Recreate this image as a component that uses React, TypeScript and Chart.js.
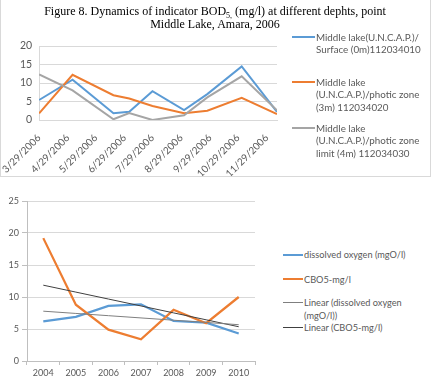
import React, { useEffect, useRef } from 'react';
import { Chart, registerables } from 'chart.js';

Chart.register(...registerables);

// ---------- Top chart data ----------
const sampleDates = ['2006-03-29', '2006-05-04', '2006-06-17', '2006-07-04', '2006-07-29', '2006-09-01', '2006-09-26', '2006-11-02', '2006-12-10'];
const surface0m = [5.4, 10.9, 1.8, 2.2, 7.8, 2.7, 7.0, 14.5, 2.2];
const photic3m = [1.8, 12.2, 6.7, 5.8, 3.8, 1.8, 2.5, 6.0, 1.6];
const photicLimit4m = [12.3, 8.0, 0.2, 1.9, 0.0, 1.3, 6.1, 11.8, 2.6];
const dateTickLabels = ['3/29/2006', '4/29/2006', '5/29/2006', '6/29/2006', '7/29/2006', '8/29/2006', '9/29/2006', '10/29/2006', '11/29/2006'];
const topSeriesLabels = [
  ['Middle lake(U.N.C.A.P.)/', 'Surface (0m)112034010'],
  ['Middle lake', '(U.N.C.A.P.)/photic zone', '(3m) 112034020'],
  ['Middle lake', '(U.N.C.A.P.)/photic zone', 'limit (4m) 112034030'],
];

// ---------- Bottom chart data ----------
const years = ['2004', '2005', '2006', '2007', '2008', '2009', '2010'];
const dissolvedOxygen = [6.2, 6.9, 8.6, 8.85, 6.25, 6.0, 4.3];
const cbo5 = [19.2, 8.8, 4.9, 3.4, 8.0, 5.9, 10.0];
const bottomSeriesLabels = [
  ['dissolved oxygen (mgO/l)'],
  ['CBO5-mg/l'],
  ['Linear (dissolved oxygen', '(mgO/l))'],
  ['Linear (CBO5-mg/l)'],
];

const BLUE = '#5B9BD5';
const ORANGE = '#ED7D31';
const GRAY = '#A5A5A5';
const TREND_DO = '#7F7F7F';
const TREND_CBO = '#404040';
const TEXT = '#595959';
const GRID = '#D9D9D9';
const FONT = 'Lato, "Open Sans", sans-serif';

const BASE = Date.UTC(2006, 2, 29);
function isoDay(s: string): number {
  const [y, m, d] = s.split('-').map(Number);
  return Math.round((Date.UTC(y, m - 1, d) - BASE) / 86400000);
}
function usDay(s: string): number {
  const [m, d, y] = s.split('/').map(Number);
  return Math.round((Date.UTC(y, m - 1, d) - BASE) / 86400000);
}
function linearTrend(ys: number[]): number[] {
  const n = ys.length;
  const xs = ys.map((_, i) => i);
  const mx = xs.reduce((a, b) => a + b, 0) / n;
  const my = ys.reduce((a, b) => a + b, 0) / n;
  let sxy = 0;
  let sxx = 0;
  for (let i = 0; i < n; i++) {
    sxy += (xs[i] - mx) * (ys[i] - my);
    sxx += (xs[i] - mx) * (xs[i] - mx);
  }
  const b = sxy / sxx;
  const a = my - b * mx;
  return xs.map((x) => a + b * x);
}

function TopChart() {
  const ref = useRef<HTMLCanvasElement>(null);
  useEffect(() => {
    const days = sampleDates.map(isoDay);
    const tickDays = dateTickLabels.map(usDay);
    const pts = (vals: number[]) => vals.map((v, i) => ({ x: days[i], y: v }));
    const chart = new Chart(ref.current!, {
      type: 'line',
      data: {
        datasets: [
          { label: topSeriesLabels[0].join(' '), data: pts(surface0m), borderColor: BLUE, borderWidth: 2, pointRadius: 0, order: 3 },
          { label: topSeriesLabels[1].join(' '), data: pts(photic3m), borderColor: ORANGE, borderWidth: 2, pointRadius: 0, order: 2 },
          { label: topSeriesLabels[2].join(' '), data: pts(photicLimit4m), borderColor: GRAY, borderWidth: 2, pointRadius: 0, order: 1 },
        ],
      },
      options: {
        responsive: false,
        animation: false,
        layout: { padding: { top: 46, right: 13, left: 0, bottom: 0 } },
        plugins: { legend: { display: false }, tooltip: { enabled: false } },
        scales: {
          x: {
            type: 'linear',
            min: 0,
            max: days[days.length - 1],
            afterBuildTicks: (s: any) => {
              s.ticks = tickDays.map((v) => ({ value: v }));
            },
            afterFit: (s: any) => {
              s.height = 56;
            },
            ticks: {
              autoSkip: false,
              minRotation: 45,
              maxRotation: 45,
              padding: 4,
              color: TEXT,
              font: { family: FONT, size: 10 },
              callback: (v: any) => {
                const i = tickDays.indexOf(Number(v));
                return i >= 0 ? dateTickLabels[i] : '';
              },
            },
            grid: { display: false },
            border: { display: true, color: GRID },
          },
          y: {
            min: 0,
            max: 20,
            afterFit: (s: any) => {
              s.width = 37;
            },
            ticks: { stepSize: 5, color: TEXT, padding: 7, font: { family: FONT, size: 10.5 } },
            grid: { color: GRID, drawTicks: false },
            border: { display: true, color: GRID },
          },
        },
      },
    });
    return () => chart.destroy();
  }, []);
  return <canvas ref={ref} width={290} height={176} style={{ position: 'absolute', left: 0, top: 0, width: 290, height: 176 }} />;
}

function BottomChart() {
  const ref = useRef<HTMLCanvasElement>(null);
  useEffect(() => {
    const chart = new Chart(ref.current!, {
      type: 'line',
      data: {
        labels: years,
        datasets: [
          { label: bottomSeriesLabels[2].join(' '), data: linearTrend(dissolvedOxygen), borderColor: TREND_DO, borderWidth: 1, pointRadius: 0, order: 0 },
          { label: bottomSeriesLabels[3].join(' '), data: linearTrend(cbo5), borderColor: TREND_CBO, borderWidth: 1, pointRadius: 0, order: 0 },
          { label: bottomSeriesLabels[0].join(' '), data: dissolvedOxygen, borderColor: BLUE, borderWidth: 2.25, pointRadius: 0, order: 2 },
          { label: bottomSeriesLabels[1].join(' '), data: cbo5, borderColor: ORANGE, borderWidth: 2.25, pointRadius: 0, order: 1 },
        ],
      },
      options: {
        responsive: false,
        animation: false,
        layout: { padding: { top: 11, right: 25, left: 0, bottom: 0 } },
        plugins: { legend: { display: false }, tooltip: { enabled: false } },
        scales: {
          x: {
            type: 'category',
            offset: true,
            afterFit: (s: any) => {
              s.height = 22;
            },
            ticks: { color: TEXT, padding: 3, font: { family: FONT, size: 9 }, maxRotation: 0 },
            grid: { offset: true, drawOnChartArea: false, drawTicks: true, tickLength: 4, color: '#BFBFBF' },
            border: { display: true, color: '#BFBFBF' },
          },
          y: {
            min: 0,
            max: 25,
            afterFit: (s: any) => {
              s.width = 27;
            },
            ticks: { stepSize: 5, color: TEXT, padding: 3, font: { family: FONT, size: 9 } },
            grid: { color: GRID, tickLength: 5, tickColor: '#BFBFBF' },
            border: { display: true, color: '#BFBFBF' },
          },
        },
      },
    });
    return () => chart.destroy();
  }, []);
  return <canvas ref={ref} width={280} height={193} style={{ position: 'absolute', left: 0, top: 190, width: 280, height: 193 }} />;
}

function LegendEntry(props: { x: number; y: number; w: number; color: string; lw: number; lines: string[]; lh: number; size: number }) {
  const { x, y, w, color, lw, lines, lh, size } = props;
  return (
    <>
      <div style={{ position: 'absolute', left: x, top: y - lw / 2, width: w, height: lw, background: color }} />
      <div
        style={{
          position: 'absolute',
          left: x + w + 1,
          top: y - lh / 2,
          fontFamily: FONT,
          fontSize: size,
          lineHeight: `${lh}px`,
          color: TEXT,
          whiteSpace: 'nowrap',
        }}
      >
        {lines.map((l, i) => (
          <div key={i}>{l}</div>
        ))}
      </div>
    </>
  );
}

export default function App() {
  return (
    <div style={{ position: 'fixed', left: 0, top: 0, width: 432, height: 383, background: '#fff', overflow: 'hidden' }}>
      <div
        style={{
          position: 'absolute',
          left: 0,
          top: -1,
          width: 431,
          height: 178,
          boxSizing: 'border-box',
          border: `1px solid ${GRID}`,
        }}
      />
      <TopChart />
      <div
        style={{
          position: 'absolute',
          left: 0,
          top: 6,
          width: 430,
          textAlign: 'center',
          fontFamily: '"Liberation Serif", "DejaVu Serif", serif',
          fontSize: 12,
          lineHeight: '11.5px',
          color: '#000',
        }}
      >
        <div>
          Figure 8. Dynamics of indicator BOD
          <span style={{ fontSize: 8, position: 'relative', top: 3 }}>5,</span> (mg/l) at different dephts, point
        </div>
        <div>Middle Lake, Amara, 2006</div>
      </div>
      <LegendEntry x={292} y={37} w={23} color={BLUE} lw={2} lines={topSeriesLabels[0]} lh={12.5} size={9.8} />
      <LegendEntry x={292} y={82} w={23} color={ORANGE} lw={2} lines={topSeriesLabels[1]} lh={12.5} size={9.8} />
      <LegendEntry x={292} y={128} w={23} color={GRAY} lw={2} lines={topSeriesLabels[2]} lh={12.5} size={9.8} />

      <BottomChart />
      <LegendEntry x={283} y={254.7} w={20} color={BLUE} lw={2.25} lines={bottomSeriesLabels[0]} lh={13} size={9.2} />
      <LegendEntry x={283} y={279} w={20} color={ORANGE} lw={2.25} lines={bottomSeriesLabels[1]} lh={13} size={9.2} />
      <LegendEntry x={283} y={302.7} w={20} color={TREND_DO} lw={1} lines={bottomSeriesLabels[2]} lh={13} size={9.2} />
      <LegendEntry x={283} y={327.3} w={20} color={TREND_CBO} lw={1} lines={bottomSeriesLabels[3]} lh={13} size={9.2} />
    </div>
  );
}
